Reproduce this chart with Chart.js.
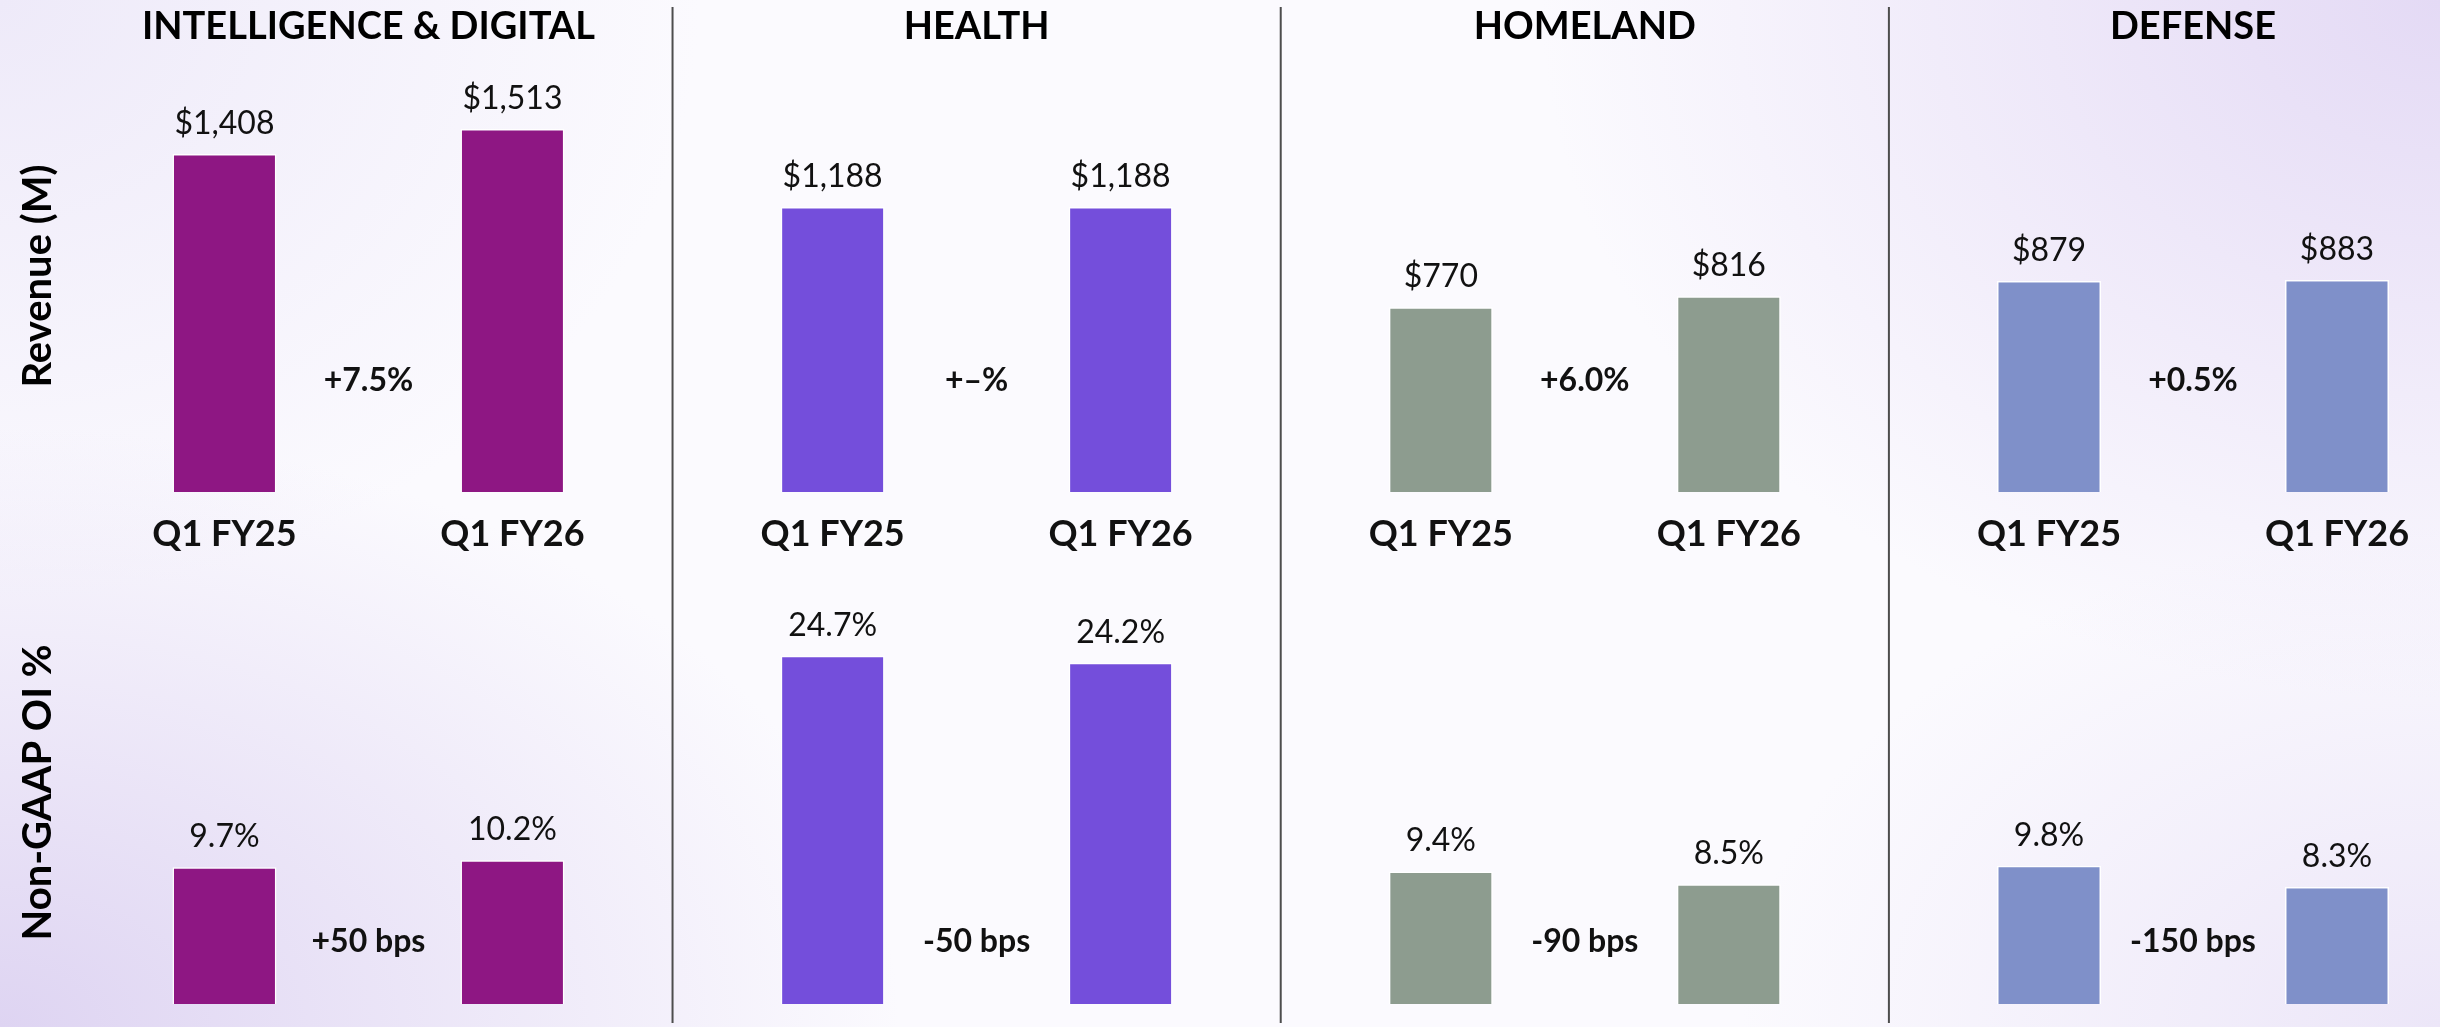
<!DOCTYPE html>
<html>
<head>
<meta charset="utf-8">
<title>Segment results Q1 FY26</title>
<script src="https://cdn.jsdelivr.net/npm/chart.js@4.4.1/dist/chart.umd.min.js"></script>
<style>
    html, body {
        margin: 0;
        padding: 0;
    }
    body {
        width: 2440px;
        height: 1027px;
        overflow: hidden;
        position: relative;
        font-family: Lato, sans-serif;
        background:
            radial-gradient(ellipse 900px 700px at 100% 0%, rgba(228, 218, 245, 1) 0%, rgba(228, 218, 245, 0) 100%),
            radial-gradient(ellipse 900px 600px at 0% 100%, rgba(222, 212, 242, 1) 0%, rgba(222, 212, 242, 0) 100%),
            radial-gradient(ellipse 700px 600px at 0% 0%, rgba(238, 234, 249, 1) 0%, rgba(238, 234, 249, 0) 100%),
            radial-gradient(ellipse 700px 500px at 100% 100%, rgba(236, 230, 248, 1) 0%, rgba(236, 230, 248, 0) 100%),
            #fbfafe;
    }
    .row {
        position: absolute;
        left: 0;
        width: 2440px;
    }
    #revenue-row { top: 0; height: 560px; }
    #margin-row { top: 560px; height: 467px; }
</style>
</head>
<body>

<div class="row" id="revenue-row"><canvas id="revenueChart"></canvas></div>
<div class="row" id="margin-row"><canvas id="marginChart"></canvas></div>

<script>
const segments = ['INTELLIGENCE & DIGITAL', 'HEALTH', 'HOMELAND', 'DEFENSE'];
const periods = ['Q1 FY25', 'Q1 FY26'];

// revenue, $M
const revenueFY25 = [1408, 1188, 770, 879];
const revenueFY26 = [1513, 1188, 816, 883];
const revenueChange = ['+7.5%', '+\u2013%', '+6.0%', '+0.5%'];

// non-GAAP operating income margin, %
const marginFY25 = [9.7, 24.7, 9.4, 9.8];
const marginFY26 = [10.2, 24.2, 8.5, 8.3];
const marginChange = ['+50 bps', '-50 bps', '-90 bps', '-150 bps'];

const segmentColors = ['#8e1783', '#744edb', '#8d9c8f', '#7f90c9'];

const FONT = 'Lato';

// value labels, period labels, change labels and the segment dividers
function segmentText(cfg) {
    return {
        id: 'segmentText',
        afterDatasetsDraw(chart) {
            const ctx = chart.ctx;
            const area = chart.chartArea;
            const xScale = chart.scales.x;
            ctx.save();
            ctx.fillStyle = '#111';
            ctx.textAlign = 'center';
            ctx.textBaseline = 'alphabetic';

            chart.data.datasets.forEach((ds, i) => {
                const meta = chart.getDatasetMeta(i);
                meta.data.forEach((bar, j) => {
                    const v = ds.data[j];
                    const txt = cfg.money ? '$' + v.toLocaleString('en-US') : v.toFixed(1) + '%';
                    ctx.font = '32px ' + FONT;
                    ctx.fillText(txt, bar.x, bar.y - 20);
                    if (cfg.showPeriods) {
                        ctx.font = 'bold 36px ' + FONT;
                        ctx.fillText(ds.label, bar.x, area.bottom + 54);
                    }
                });
            });

            ctx.font = 'bold 32px ' + FONT;
            cfg.changes.forEach((txt, j) => {
                ctx.fillText(txt, xScale.getPixelForValue(j), area.bottom - cfg.changeLift);
            });

            ctx.strokeStyle = '#4d4d4d';
            ctx.lineWidth = 2;
            for (let j = 0; j < segments.length - 1; j++) {
                const x = (xScale.getPixelForTick(j) + xScale.getPixelForTick(j + 1)) / 2;
                ctx.beginPath();
                ctx.moveTo(x, cfg.lineTop);
                ctx.lineTo(x, cfg.lineBottom);
                ctx.stroke();
            }
            ctx.restore();
        }
    };
}

function barSet(label, data) {
    return {
        label: label,
        data: data,
        backgroundColor: segmentColors,
        borderColor: '#ffffff',
        borderWidth: 1.5,
        categoryPercentage: 0.947,
        barPercentage: 0.361,
        clip: false
    };
}

const yAxisTitle = (text) => ({
    display: true,
    text: text,
    color: '#000',
    font: { family: FONT, size: 40, weight: 'bold' },
    padding: { top: 14, bottom: 0 }
});

// revenue row
new Chart(document.getElementById('revenueChart'), {
    type: 'bar',
    data: {
        labels: segments,
        datasets: [barSet(periods[0], revenueFY25), barSet(periods[1], revenueFY26)]
    },
    options: {
        responsive: true,
        maintainAspectRatio: false,
        animation: false,
        layout: { padding: { left: 0, right: 247, top: 0, bottom: 68 } },
        plugins: { legend: { display: false }, tooltip: { enabled: false } },
        scales: {
            x: {
                position: 'top',
                offset: false,
                grid: { display: false, drawTicks: false },
                border: { display: false },
                ticks: {
                    color: '#000',
                    font: { family: FONT, size: 38, weight: 'bold' },
                    padding: 10,
                    maxRotation: 0,
                    autoSkip: false
                },
                afterFit(scale) { scale.height = 60; }
            },
            y: {
                min: 0,
                max: 1800,
                grid: { display: false },
                border: { display: false },
                ticks: { display: false },
                title: yAxisTitle('Revenue (M)'),
                afterFit(scale) { scale.width = 368.45; }
            }
        }
    },
    plugins: [segmentText({ money: true, showPeriods: true, changes: revenueChange, changeLift: 101, lineTop: 7, lineBottom: 560 })]
});

// margin row
new Chart(document.getElementById('marginChart'), {
    type: 'bar',
    data: {
        labels: segments,
        datasets: [barSet(periods[0], marginFY25), barSet(periods[1], marginFY26)]
    },
    options: {
        responsive: true,
        maintainAspectRatio: false,
        animation: false,
        layout: { padding: { left: 0, right: 247, top: 21, bottom: 23 } },
        plugins: { legend: { display: false }, tooltip: { enabled: false } },
        scales: {
            x: {
                display: false,
                offset: false
            },
            y: {
                min: 0,
                max: 30,
                grid: { display: false },
                border: { display: false },
                ticks: { display: false },
                title: yAxisTitle('Non-GAAP OI %'),
                afterFit(scale) { scale.width = 368.45; }
            }
        }
    },
    plugins: [segmentText({ money: false, showPeriods: false, changes: marginChange, changeLift: 52, lineTop: 0, lineBottom: 463 })]
});
</script>
</body>
</html>
